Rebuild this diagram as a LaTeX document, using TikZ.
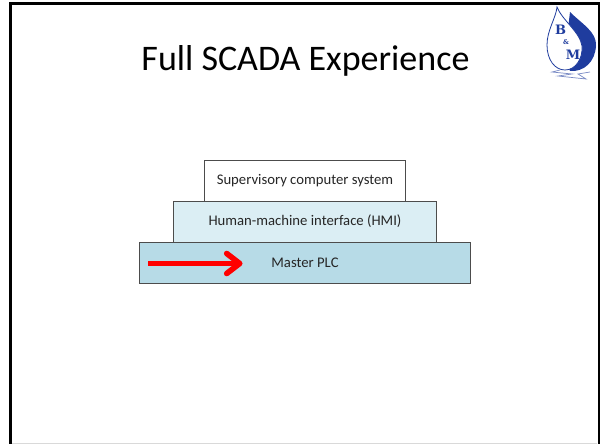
\documentclass[tikz,border=0pt]{standalone}
\usepackage{fontspec}
\setmainfont{Carlito}
\newfontfamily\logofont{DejaVu Serif}
\usetikzlibrary{arrows.meta,positioning}
\definecolor{plcblue}{HTML}{B7DBE7}
\definecolor{hmiblue}{HTML}{DBEEF4}
\definecolor{logoblue}{HTML}{1F3C9E}
\tikzstyle{layer} = [rectangle, draw=black!70, line width=0.7pt, minimum height=41pt, text centered, node distance=41pt, font=\fontsize{14.7}{16}\selectfont, text=black!85]
\tikzstyle{line} = [draw=red, line width=5.2pt, -{Straight Barb[length=13pt,width=20pt,line width=5.6pt,round]}]
\tikzstyle{logotext} = [text=logoblue, inner sep=0pt]
\begin{document}
\begin{tikzpicture}[x=1pt,y=-1pt]
\useasboundingbox (0,0) rectangle (600,444);
\fill [white] (0,0) rectangle (600,444);
% slide frame
\draw [black, line width=3pt] (10.5,446) -- (10.5,4) -- (599,4) -- (599,446);
\draw [black!15, line width=1pt] (12,443.5) -- (597,443.5);

\node [font=\fontsize{36}{42}\selectfont, inner sep=0pt] (title) at (305.5,61) {Full SCADA Experience};

% stack
\node [layer, fill=plcblue, minimum width=331pt] (plc) at (305,262.4) {Master PLC};
\node [layer, fill=hmiblue, minimum width=263pt, above of = plc] (hmi) {Human-machine interface (HMI)};
\node [layer, fill=white, minimum width=201pt, above of = hmi] (sup) {Supervisory computer system};

\coordinate (arrow_start) at (148,263.5);
\coordinate (arrow_end) at (242.5,263.5);
\path [line] (arrow_start) to (arrow_end);

% logo
\fill [logoblue] (570,12) .. controls (582,24) and (597,32) .. (596,46) .. controls (595,62) and (584,72) .. (570,71) -- (565,55) -- cycle;
\draw [logoblue, line width=0.8pt, fill=white] (557,7) .. controls (556,18) and (547,30) .. (547,45) .. controls (547,60) and (555,70) .. (565,70) .. controls (576,70) and (583,58) .. (582,46) .. controls (580,32) and (562,20) .. (557,7) -- cycle;
\node [logotext, font=\fontsize{13}{13}\logofont\bfseries] (logo_b) at (560.5,29.5) {B};
\node [logotext, font=\fontsize{6.5}{6.5}\logofont\bfseries] (logo_and) at (566,42) {\&};
\node [logotext, font=\fontsize{13}{13}\logofont\bfseries] (logo_m) at (573,54.5) {M};
\draw [logoblue!60, line width=0.7pt] (560,70) -- (552,72) -- (572,74) -- (558,76) -- (586,79) -- (578,74) -- (590,72);
\end{tikzpicture}
\end{document}
